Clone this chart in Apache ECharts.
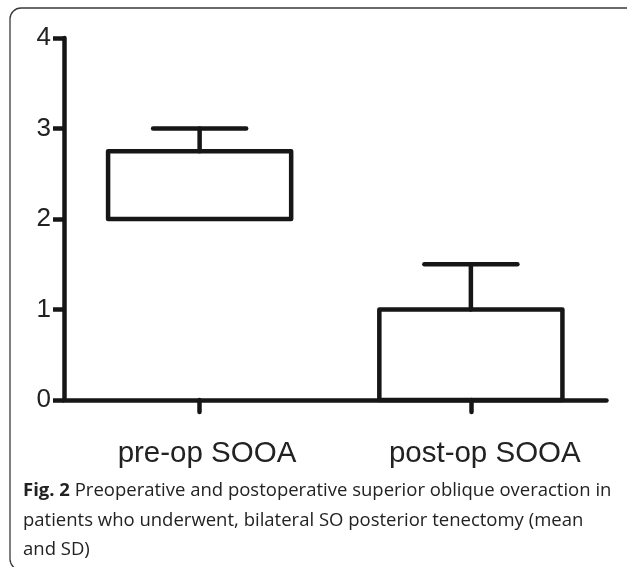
<!DOCTYPE html>
<html>
<head>
<meta charset="utf-8">
<script src="https://cdn.jsdelivr.net/npm/echarts@6/dist/echarts.min.js"></script>
<style>
html,body{margin:0;padding:0;background:#fff;}
#chart{width:627px;height:567px;}
</style>
</head>
<body>
<div id="chart"></div>
<script>
const categories = ['pre-op SOOA', 'post-op SOOA'];
const boxLow = [2, 0];
const boxHigh = [2.75, 1];
const errHigh = [3, 1.5];
const yTicks = [0, 1, 2, 3, 4];
const captionBold = 'Fig. 2';
const captionLines = [
  ' Preoperative and postoperative superior oblique overaction in',
  'patients who underwent, bilateral SO posterior tenectomy (mean',
  'and SD)'
];

const chart = echarts.init(document.getElementById('chart'), null, {renderer: 'canvas'});
const data = categories.map((c, i) => [i, boxLow[i], boxHigh[i], errHigh[i]]);
const ink = '#161616';

const option = {
  animation: false,
  backgroundColor: '#fff',
  grid: {left: 64, right: 20.5, top: 38, bottom: 167, containLabel: false},
  xAxis: {
    type: 'category',
    data: categories,
    axisLine: {lineStyle: {color: ink, width: 4.5}},
    axisTick: {show: true, alignWithLabel: true, length: 12, lineStyle: {color: ink, width: 4.5, cap: 'round'}},
    axisLabel: {
      margin: 39,
      formatter: function (v) { return '{a|' + v + '}'; },
      rich: {a: {fontFamily: 'Liberation Sans', fontSize: 29.5, color: '#222', width: 164, align: 'left'}}
    }
  },
  yAxis: {
    type: 'value',
    min: yTicks[0], max: yTicks[yTicks.length - 1], interval: 1,
    splitLine: {show: false},
    axisLine: {show: true, lineStyle: {color: ink, width: 4.5}},
    axisTick: {show: true, length: 11, lineStyle: {color: ink, width: 4.5}},
    axisLabel: {fontFamily: 'Liberation Sans', fontSize: 26, color: '#222', margin: 13}
  },
  series: [{
    type: 'custom',
    data: data,
    encode: {x: 0, y: [1, 2, 3]},
    renderItem: function (params, api) {
      const idx = api.value(0);
      const pLow = api.coord([idx, api.value(1)]);
      const pHigh = api.coord([idx, api.value(2)]);
      const pErr = api.coord([idx, api.value(3)]);
      const band = api.size([1, 0])[0];
      const bw = band * 0.675;
      const cw = band * 0.343;
      const cx = pLow[0];
      const style = {stroke: ink, lineWidth: 4.5, fill: null, lineCap: 'round', lineJoin: 'round'};
      return {
        type: 'group',
        children: [
          {type: 'line', shape: {x1: cx, y1: pHigh[1], x2: cx, y2: pErr[1]}, style: style},
          {type: 'line', shape: {x1: cx - cw / 2, y1: pErr[1], x2: cx + cw / 2, y2: pErr[1]}, style: style},
          {type: 'rect', shape: {x: cx - bw / 2, y: pHigh[1], width: bw, height: pLow[1] - pHigh[1]},
            style: {stroke: ink, lineWidth: 4.5, fill: 'rgba(255,255,255,0)', lineJoin: 'round'}}
        ]
      };
    }
  }],
  graphic: [
    {type: 'rect', shape: {x: 10, y: 8, width: 700, height: 562, r: 11},
      style: {fill: null, stroke: '#3a3a3a', lineWidth: 1.3}, silent: true},
    {type: 'text', left: 23, top: 476,
      style: {
        text: '{b|' + captionBold + '}' + captionLines[0] + '\n' + captionLines[1] + '\n' + captionLines[2],
        fontFamily: 'Open Sans', fontSize: 18.5, fill: '#222', lineHeight: 29.5,
        rich: {b: {fontFamily: 'Open Sans', fontWeight: 'bold', fontSize: 18.5, fill: '#222', lineHeight: 29.5}}
      }}
  ]
};
chart.setOption(option);
</script>
</body>
</html>
